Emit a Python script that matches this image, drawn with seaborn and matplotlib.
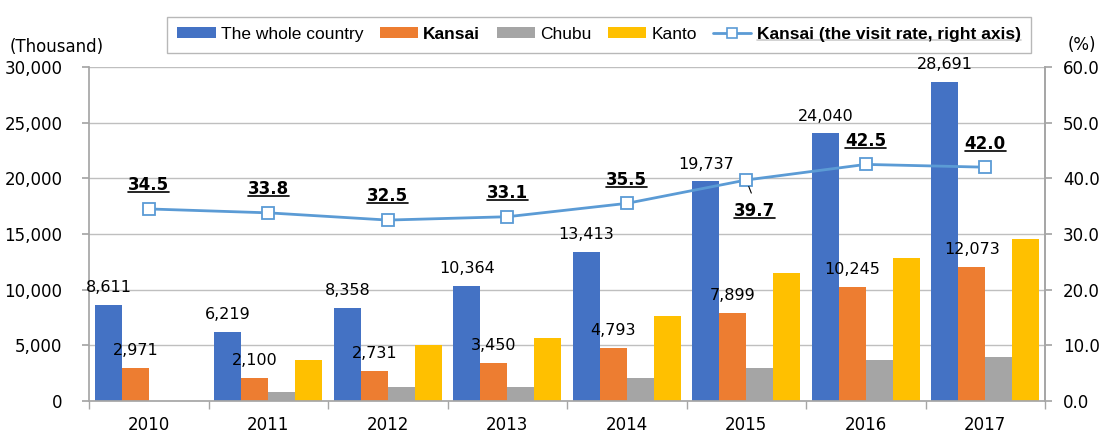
import matplotlib
matplotlib.use('Agg')
import matplotlib.pyplot as plt
from matplotlib.lines import Line2D
from matplotlib.patches import Patch
from matplotlib.ticker import FuncFormatter
import numpy as np
import pandas as pd
import seaborn as sns

# Data
years = ['2010', '2011', '2012', '2013', '2014', '2015', '2016', '2017']
whole_country = [8611, 6219, 8358, 10364, 13413, 19737, 24040, 28691]
kansai = [2971, 2100, 2731, 3450, 4793, 7899, 10245, 12073]
chubu = [np.nan, 830, 1260, 1280, 2090, 2990, 3680, 3980]
kanto = [np.nan, 3680, 5030, 5630, 7660, 11470, 12820, 14550]
visit_rate = [34.5, 33.8, 32.5, 33.1, 35.5, 39.7, 42.5, 42.0]

series_names = ['The whole country', 'Kansai', 'Chubu', 'Kanto']
rate_name = 'Kansai (the visit rate, right axis)'
colors = ['#4472C4', '#ED7D31', '#A5A5A5', '#FFC000']
line_color = '#5B9BD5'
grey = '#A6A6A6'

df = pd.DataFrame({
    'year': years * 4,
    'series': np.repeat(series_names, len(years)),
    'value': whole_country + kansai + chubu + kanto,
})

sns.set_theme(style='white')
plt.rcParams['font.family'] = ['DejaVu Sans']
plt.rcParams['text.color'] = 'black'
plt.rcParams['xtick.labelcolor'] = 'black'
plt.rcParams['ytick.labelcolor'] = 'black'

fig, ax = plt.subplots(figsize=(11.07, 4.37), dpi=100)
fig.subplots_adjust(left=0.0804, right=0.944, bottom=0.0824, top=0.8467)

# Bars
sns.barplot(data=df, x='year', y='value', hue='series', hue_order=series_names,
            palette=colors, saturation=1, width=0.9, gap=0, linewidth=0,
            legend=False, ax=ax)

ax.set_xlim(-0.5, len(years) - 0.5)
ax.set_ylim(0, 30000)
ax.set_yticks(range(0, 30001, 5000))
ax.yaxis.set_major_formatter(FuncFormatter(lambda v, p: f'{v:,.0f}'))
ax.set_xlabel('')
ax.set_ylabel('')
ax.yaxis.grid(True, color='#BFBFBF', lw=1)
ax.set_axisbelow(True)
for s in ['left', 'bottom', 'right']:
    ax.spines[s].set_color(grey)
ax.spines['top'].set_visible(False)
ax.tick_params(axis='y', left=True, length=5, color=grey, labelsize=12,
               labelcolor='black', pad=14)
ax.tick_params(axis='x', which='major', length=0, labelsize=12,
               labelcolor='black', pad=11)
ax.set_xticks(np.arange(-0.5, len(years), 1), minor=True)
ax.tick_params(axis='x', which='minor', bottom=True, length=6, color=grey)

# Value labels on whole country and Kansai bars
for cont in ax.containers[:2]:
    ax.bar_label(cont, labels=[f'{int(v):,}' for v in cont.datavalues],
                 padding=7, fontsize=11.5, color='black')

# Visit-rate line on right axis
ax2 = ax.twinx()
ax2.set_ylim(0, 60)
ax2.set_yticks(range(0, 61, 10))
ax2.yaxis.set_major_formatter(FuncFormatter(lambda v, p: f'{v:.1f}'))
ax2.tick_params(axis='y', right=True, length=5, color=grey, labelsize=12,
                labelcolor='black', pad=8)
for s in ax2.spines.values():
    s.set_visible(False)
ax2.spines['right'].set_visible(True)
ax2.spines['right'].set_color(grey)
ax2.grid(False)

xs = np.arange(len(years))
ax2.plot(xs, visit_rate, color=line_color, lw=2, marker='s', ms=8,
         mfc='white', mec=line_color, mew=1.3, zorder=3)

rate_texts = []
for i, v in enumerate(visit_rate):
    if years[i] == '2015':
        t = ax2.annotate(f'{v:.1f}', (xs[i], v), xytext=(6, -22),
                         textcoords='offset points', ha='center', va='center',
                         fontsize=12, fontweight='bold', color='black',
                         arrowprops=dict(arrowstyle='-', color='black', lw=0.8,
                                         relpos=(0.5, 1), shrinkA=4, shrinkB=5))
    else:
        t = ax2.annotate(f'{v:.1f}', (xs[i], v), xytext=(0, 17),
                         textcoords='offset points', ha='center', va='center',
                         fontsize=12, fontweight='bold', color='black')
    rate_texts.append(t)

# Axis unit labels
fig.text(10 / 1107, 1 - 47 / 437, '(Thousand)', fontsize=12, va='center', ha='left')
fig.text(1082 / 1107, 1 - 45 / 437, '(%)', fontsize=12, va='center', ha='center')

# Legend
handles = [Patch(facecolor=c, edgecolor='none') for c in colors]
handles.append(Line2D([], [], color=line_color, lw=2, marker='s', ms=7,
                      mfc='white', mec=line_color, mew=1.2))
leg = fig.legend(handles, series_names + [rate_name], loc='upper center',
                 bbox_to_anchor=(599 / 1107, 1 - 8 / 437), ncol=5,
                 frameon=True, fancybox=False, edgecolor=grey,
                 prop={'family': ['Liberation Sans', 'DejaVu Sans'], 'size': 12.5},
                 handlelength=2.2, handleheight=0.6, columnspacing=0.95,
                 handletextpad=0.3, borderpad=0.6)
leg.get_frame().set_linewidth(1)
leg_texts = leg.get_texts()
for t in leg_texts:
    t.set_color('black')
leg_texts[1].set_fontweight('bold')
leg_texts[4].set_fontweight('bold')

# Underlines for the bold rate labels and the last legend entry
fig.canvas.draw()
renderer = fig.canvas.get_renderer()
inv = fig.transFigure.inverted()
for t in rate_texts + [leg_texts[4]]:
    bb = t.get_window_extent(renderer)
    (x0, y0), (x1, _) = inv.transform([[bb.x0, bb.y0 + 2], [bb.x1, bb.y0 + 2]])
    fig.add_artist(Line2D([x0, x1], [y0, y0], color='black', lw=1.2,
                          transform=fig.transFigure))

fig.savefig('out.png', dpi=100)
